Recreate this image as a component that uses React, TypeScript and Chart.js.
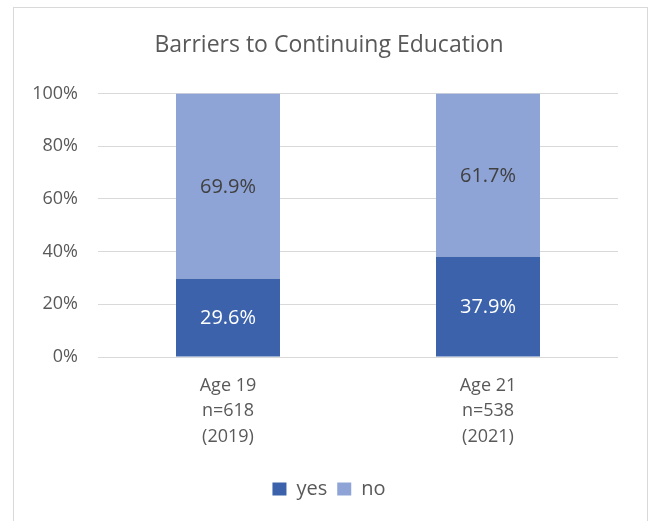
import React, { useEffect, useRef } from "react";
import { Chart, registerables } from "chart.js";

Chart.register(...registerables);

const categories: string[][] = [
  ["Age 19", "n=618", "(2019)"],
  ["Age 21", "n=538", "(2021)"],
];
const yesValues: number[] = [29.6, 37.9];
const noValues: number[] = [69.9, 61.7];
const seriesNames: string[] = ["yes", "no"];
const yTicks: number[] = [0, 20, 40, 60, 80, 100];

const FONT = "'Open Sans', sans-serif";
const TEXT = "#595959";

const totals = yesValues.map((v, i) => v + noValues[i]);
const yesPct = yesValues.map((v, i) => (v / totals[i]) * 100);
const noPct = noValues.map((v, i) => (v / totals[i]) * 100);
const rawValues = [yesValues, noValues];

const labelPlugin = {
  id: "barLabels",
  afterDatasetsDraw(chart: any) {
    const ctx = chart.ctx;
    ctx.save();
    ctx.font = `20px ${FONT}`;
    ctx.textAlign = "center";
    ctx.textBaseline = "middle";
    chart.data.datasets.forEach((ds: any, di: number) => {
      const meta = chart.getDatasetMeta(di);
      meta.data.forEach((el: any, i: number) => {
        const y = (el.y + el.base) / 2 + 1;
        ctx.fillStyle = di === 0 ? "#ffffff" : "#404040";
        ctx.fillText(rawValues[di][i].toFixed(1) + "%", el.x, y);
      });
    });
    ctx.restore();
  },
};

export default function App() {
  const ref = useRef<HTMLCanvasElement | null>(null);
  useEffect(() => {
    if (!ref.current) return;
    const chart = new Chart(ref.current, {
      type: "bar",
      data: {
        labels: categories,
        datasets: [
          {
            label: seriesNames[0],
            data: yesPct,
            backgroundColor: "#3B62AB",
            barPercentage: 0.4,
            categoryPercentage: 1.0,
            yAxisID: "y",
          },
          {
            label: seriesNames[1],
            data: noPct,
            backgroundColor: "#8EA4D6",
            barPercentage: 0.4,
            categoryPercentage: 1.0,
            yAxisID: "y",
          },
        ],
      },
      options: {
        responsive: false,
        animation: false,
        maintainAspectRatio: false,
        layout: { padding: { left: 20, right: 16, top: 0, bottom: 12 } },
        plugins: {
          title: {
            display: true,
            text: "Barriers to Continuing Education",
            color: TEXT,
            font: { family: FONT, size: 23, weight: "normal" },
            padding: { top: 32, bottom: 34 },
          },
          legend: {
            position: "bottom",
            labels: {
              color: TEXT,
              font: { family: FONT, size: 20 },
              boxWidth: 14,
              boxHeight: 13,
              padding: 10,
            },
          },
          tooltip: { enabled: false },
        },
        scales: {
          x: {
            stacked: true,
            grid: { display: false, drawTicks: false },
            border: { display: false },
            ticks: {
              color: TEXT,
              font: { family: FONT, size: 18, lineHeight: 1.42 },
              padding: 16,
              maxRotation: 0,
            },
            afterFit: (s: any) => {
              s.height = 112;
            },
          },
          y: {
            stacked: true,
            min: 0,
            max: 100,
            afterBuildTicks: (s: any) => {
              s.ticks = yTicks.map((v) => ({ value: v }));
            },
            grid: { color: "#D9D9D9", lineWidth: 1, drawTicks: false },
            border: { display: false },
            ticks: {
              color: TEXT,
              font: { family: FONT, size: 18 },
              padding: 20,
              callback: (v: any) => v + "%",
            },
            afterFit: (s: any) => {
              s.width = 78;
            },
          },
          yRight: {
            position: "right",
            min: 0,
            max: 100,
            grid: { display: false, drawTicks: false },
            border: { display: false },
            ticks: { display: false },
            afterFit: (s: any) => {
              s.width = 20;
            },
          },
        },
      },
      plugins: [labelPlugin],
    });
    return () => chart.destroy();
  }, []);

  return (
    <div style={{ position: "fixed", left: 0, top: 0, width: 654, height: 521, background: "#fff" }}>
      <div
        style={{
          position: "absolute",
          left: 13,
          top: 7,
          width: 635,
          height: 530,
          border: "1px solid #D9D9D9",
          boxSizing: "border-box",
        }}
      />
      <canvas ref={ref} width={654} height={521} style={{ position: "absolute", left: 0, top: 0, width: 654, height: 521 }} />
    </div>
  );
}
